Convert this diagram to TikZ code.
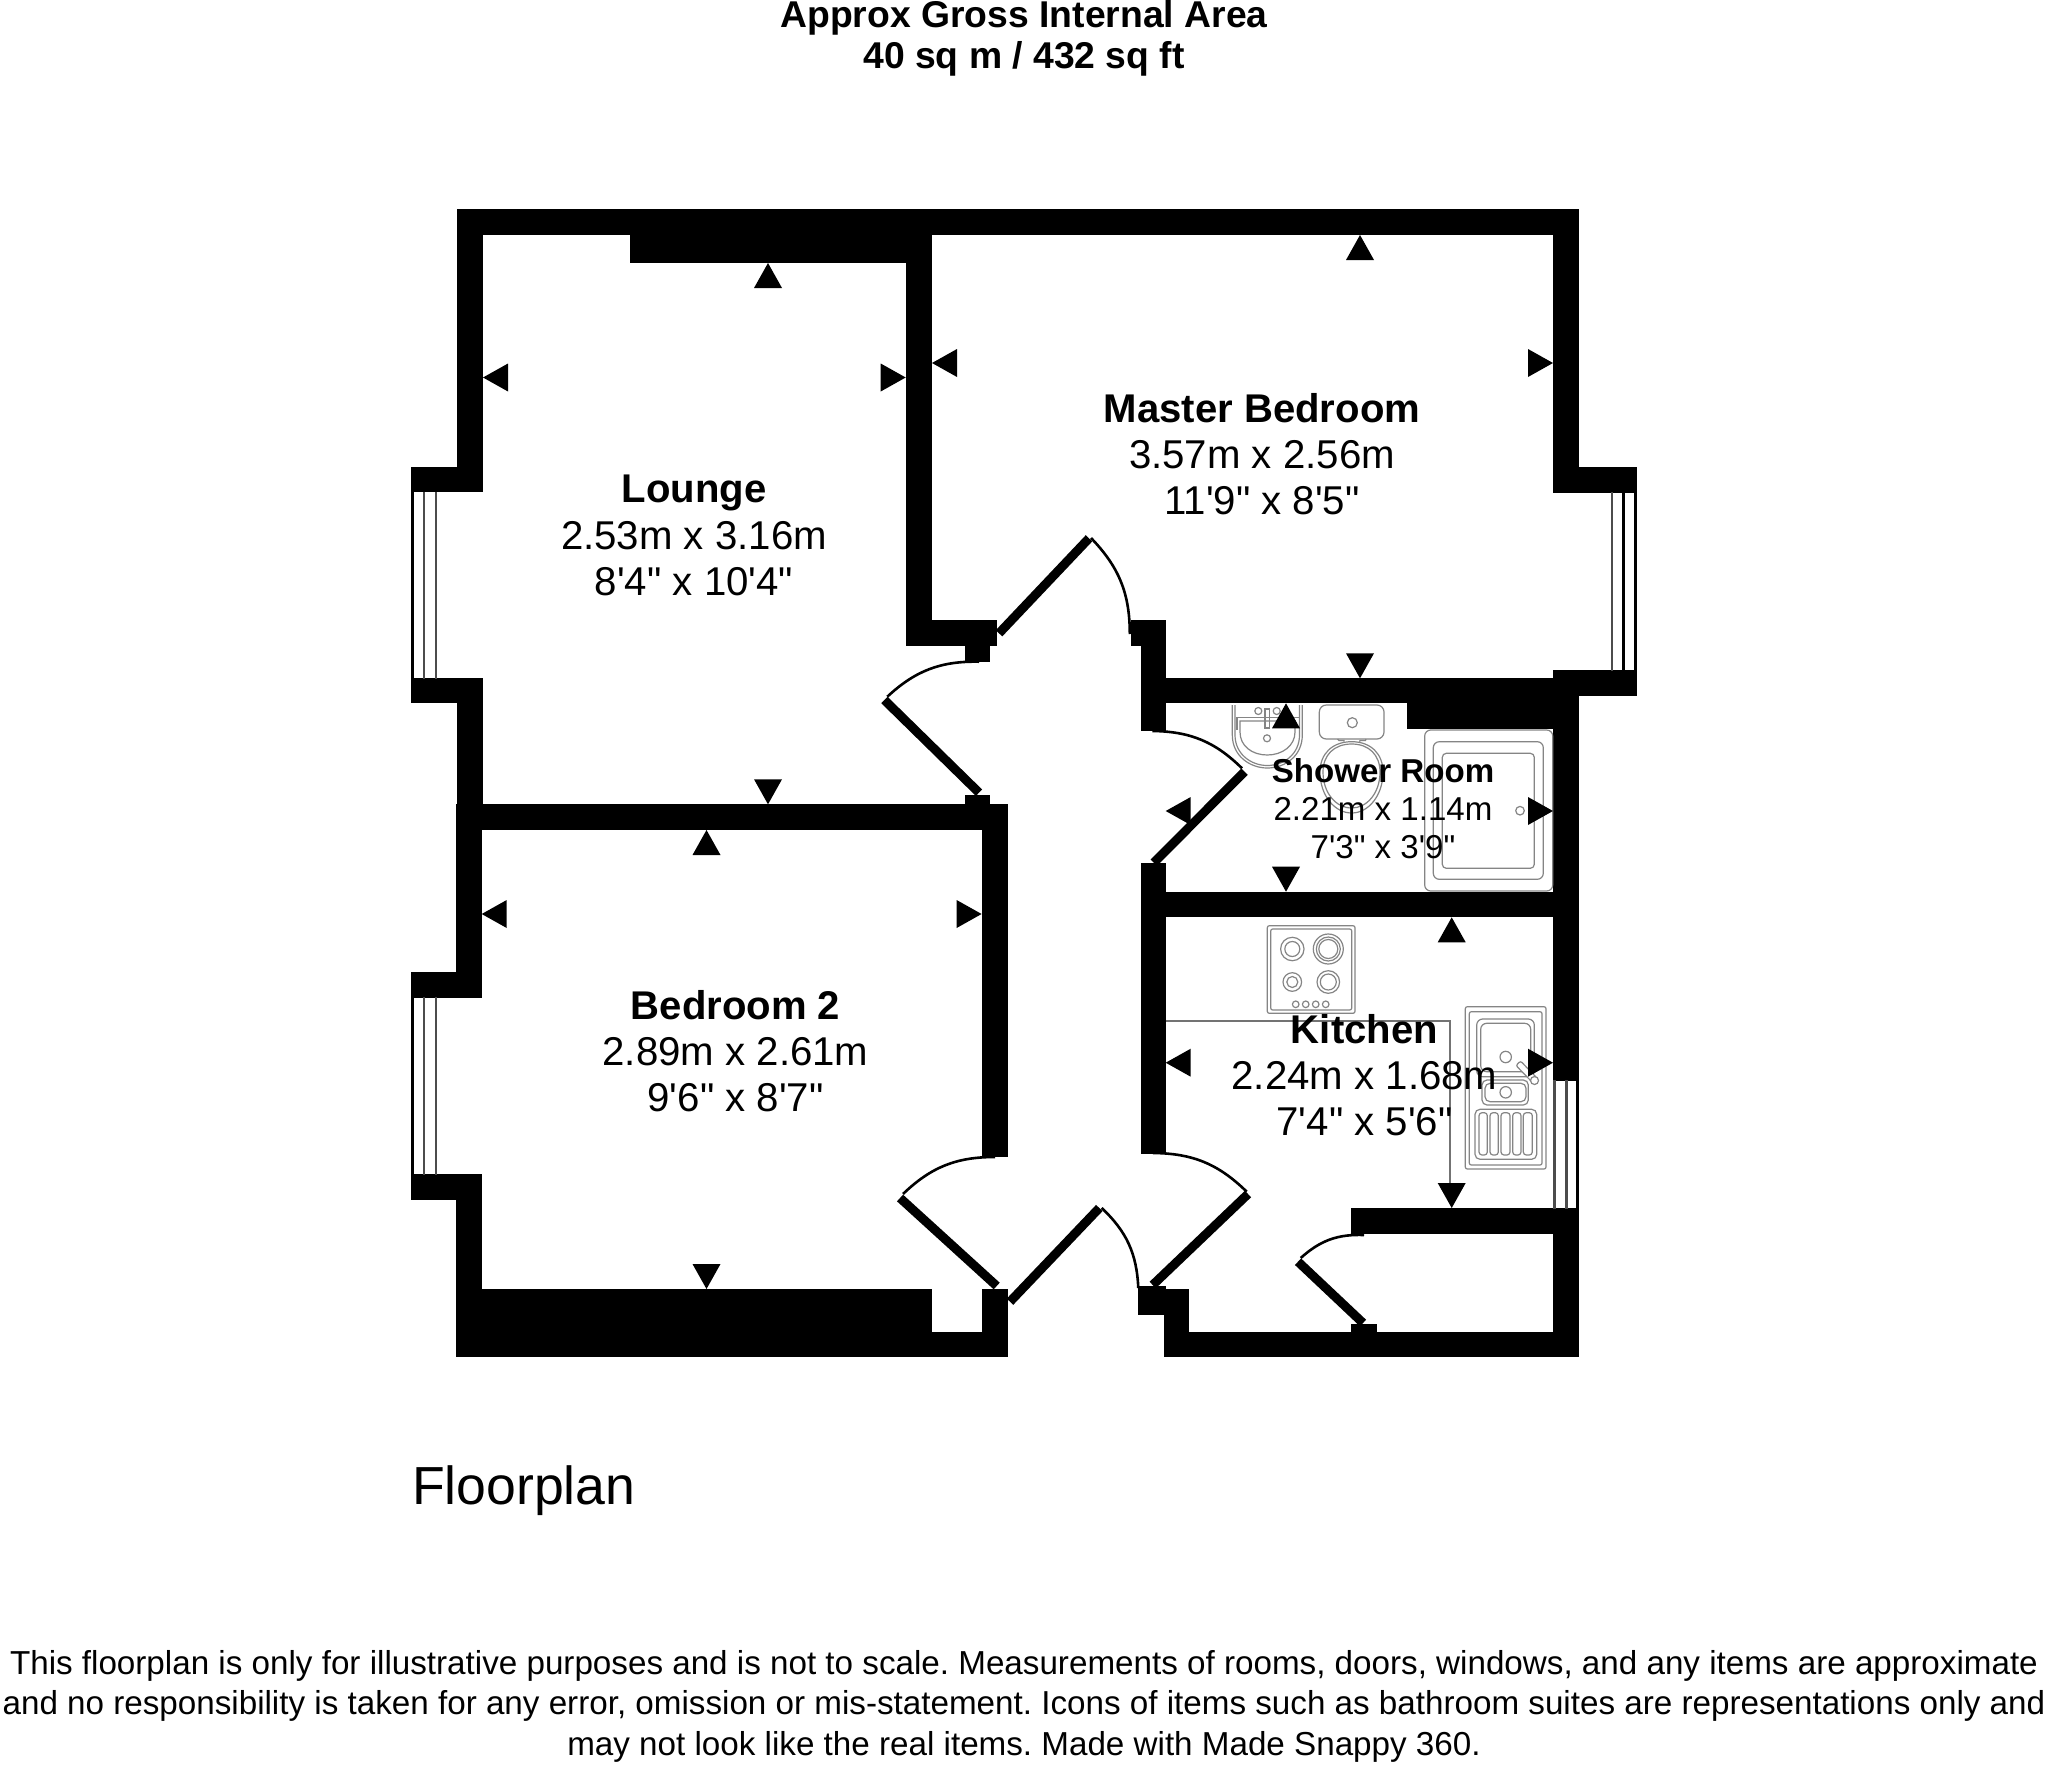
\documentclass[tikz,border=0pt]{standalone}
\usepackage{fontspec}
\newfontfamily\planfont{Liberation Sans}
\frenchspacing
\tikzset{
  txt/.style={inner sep=0pt,outer sep=0pt,anchor=base,align=center},
  ttl/.style={txt,font=\planfont\bfseries\fontsize{37.3}{37.3}\selectfont},
  rname/.style={txt,font=\planfont\bfseries\fontsize{40.1}{40.1}\selectfont},
  rsize/.style={txt,font=\planfont\fontsize{40.2}{40.2}\selectfont},
  sname/.style={txt,font=\planfont\bfseries\fontsize{33.1}{33.1}\selectfont},
  ssize/.style={txt,font=\planfont\fontsize{33.1}{33.1}\selectfont},
  smallnote/.style={txt,font=\planfont\fontsize{33.2}{33.2}\selectfont},
  wall/.style={fill=black},
  mtri/.style={fill=black},
  leaf/.style={draw=black,line width=9pt},
  swing/.style={draw=black,line width=2.6pt},
  glass/.style={draw=black!70,line width=2.6pt},
  wframe/.style={draw=black,line width=2.6pt},
  fix/.style={draw=black!48,line width=1.2pt},
  worktop/.style={draw=black!55,line width=1.5pt}
}
\newcommand{\mkup}[2]{\fill[mtri] (#1,#2) -- ++(14,25) -- ++(-28,0) -- cycle;}
\newcommand{\mkdn}[2]{\fill[mtri] (#1,#2) -- ++(14,-25) -- ++(-28,0) -- cycle;}
\newcommand{\mklf}[2]{\fill[mtri] (#1,#2) -- ++(25,14) -- ++(0,-28) -- cycle;}
\newcommand{\mkrt}[2]{\fill[mtri] (#1,#2) -- ++(-25,14) -- ++(0,-28) -- cycle;}
\begin{document}
\begin{tikzpicture}[x=1pt,y=-1pt]
\useasboundingbox (0,0) rectangle (2048,1766);
\fill[white] (0,0) rectangle (2048,1766);
% walls
\fill[wall] (456.7,209.3) rectangle (1579,235);
\fill[wall] (456.7,209.3) rectangle (483,492.3);
\fill[wall] (411,467.3) rectangle (482.7,492.3);
\fill[wall] (411,678.3) rectangle (482.7,703.3);
\fill[wall] (456.7,678.3) rectangle (482.7,830);
\fill[wall] (630.3,209.3) rectangle (932,263);
\fill[wall] (905.7,209.3) rectangle (932,646);
\fill[wall] (905.7,620) rectangle (997.3,646);
\fill[wall] (964.8,620) rectangle (990,661.7);
\fill[wall] (964.8,795) rectangle (990,830);
\fill[wall] (456,804.3) rectangle (1007.8,830);
\fill[wall] (981.6,804.3) rectangle (1007.8,1156.7);
\fill[wall] (456,804.3) rectangle (481.7,997.7);
\fill[wall] (411,972.3) rectangle (481.7,997.7);
\fill[wall] (411,1174.3) rectangle (481.7,1200);
\fill[wall] (456,1174.3) rectangle (481.7,1357.3);
\fill[wall] (456,1289) rectangle (932,1357.3);
\fill[wall] (456,1332) rectangle (1007.7,1357.3);
\fill[wall] (981.7,1289) rectangle (1007.7,1357.3);
\fill[wall] (1164,1332) rectangle (1579,1357.3);
\fill[wall] (1164,1289.3) rectangle (1189,1357.3);
\fill[wall] (1138,1286) rectangle (1165.7,1315);
\fill[wall] (1350.7,1324) rectangle (1376.7,1333);
\fill[wall] (1350.7,1208) rectangle (1579,1234);
\fill[wall] (1553,1208) rectangle (1579,1357.3);
\fill[wall] (1553,209.3) rectangle (1579,492.7);
\fill[wall] (1553,670) rectangle (1579,1081);
\fill[wall] (1553.3,467.3) rectangle (1637,492.7);
\fill[wall] (1553.3,670) rectangle (1637,696);
\fill[wall] (1140.8,678.3) rectangle (1579,703.3);
\fill[wall] (1407,703.3) rectangle (1553,729.3);
\fill[wall] (1130.8,620) rectangle (1165.7,646);
\fill[wall] (1140.8,620) rectangle (1165.7,731.3);
\fill[wall] (1140.8,863.3) rectangle (1165.7,1154);
\fill[wall] (1140.8,891.7) rectangle (1579,917.3);
% windows
\draw[wframe] (412.3,492) -- (412.3,679);
\draw[glass] (424,492) -- (424,679);
\draw[glass] (436,492) -- (436,679);
\draw[wframe] (412.3,997) -- (412.3,1175);
\draw[glass] (424,997) -- (424,1175);
\draw[glass] (436,997) -- (436,1175);
\draw[glass] (1612,492) -- (1612,671);
\draw[wframe] (1623.7,492) -- (1623.7,671);
\draw[wframe] (1635.7,492) -- (1635.7,671);
\draw[glass] (1554.7,1080) -- (1554.7,1209);
\draw[glass] (1566.3,1080) -- (1566.3,1209);
\draw[wframe] (1577.7,1080) -- (1577.7,1209);
% doors
\draw[leaf] (999,633.3) -- (1089,538.3);
\draw[swing] (1091,538) to[bend left=22] (1129.8,634);
\draw[leaf] (979,792.7) -- (884.4,700);
\draw[swing] (979,661.7) to[bend right=22] (887.3,696.7);
\draw[leaf] (996.7,1286) -- (900,1198);
\draw[swing] (995,1157) to[bend right=22] (903,1194);
\draw[leaf] (1010,1301.7) -- (1099.3,1208);
\draw[swing] (1101.7,1208) to[bend left=22] (1138.3,1288);
\draw[leaf] (1152.7,1285) -- (1248,1194);
\draw[swing] (1153,1153) to[bend left=22] (1246.7,1191.7);
\draw[leaf] (1244.6,771.7) -- (1153.7,862.7);
\draw[swing] (1152.3,731) to[bend left=22] (1242,768.3);
\draw[leaf] (1363,1323) -- (1298,1261.7);
\draw[swing] (1364,1235) to[bend right=22] (1300.7,1258);
% worktop
\draw[worktop] (1165.7,1021) -- (1450,1021) -- (1450,1185);
% hob
\draw[fix,rounded corners=2pt] (1267.3,925.7) rectangle (1355,1013.3);
\draw[fix,rounded corners=2pt] (1270.7,929) rectangle (1351.7,1010);
\draw[fix] (1292.3,949) circle (11.7) circle (7.5);
\draw[fix] (1328.3,949) circle (15) circle (12) circle (9.5);
\draw[fix] (1292.3,982) circle (9.3) circle (5.5);
\draw[fix] (1328.3,982) circle (11.3) circle (8);
\foreach \kx in {1295.7,1305.7,1315.7,1325.7} \draw[fix] (\kx,1004.3) circle (3.3);
% kitchen sink
\draw[fix,rounded corners=2pt] (1465.3,1006.7) rectangle (1546,1169);
\draw[fix,rounded corners=2pt] (1469.3,1011.7) rectangle (1542,1165);
\draw[fix,rounded corners=6pt] (1476.7,1019) rectangle (1534.3,1076.7);
\draw[fix,rounded corners=6pt] (1480.7,1023.3) rectangle (1530.7,1071.7);
\draw[fix,rounded corners=5pt] (1482,1080) rectangle (1528.3,1105);
\draw[fix,rounded corners=5pt] (1485,1083.3) rectangle (1526,1101.7);
\draw[fill=white,draw=black!48,line width=1.2pt] (1505.7,1057) circle (5.7);
\draw[fill=white,draw=black!48,line width=1.2pt] (1505.7,1092.3) circle (5.7);
\draw[fill=white,draw=black!48,line width=1.2pt,rounded corners=2pt] (1516,1065.5) -- (1520.5,1061) -- (1537,1078) -- (1532.5,1082.5) -- cycle;
\draw[fill=white,draw=black!48,line width=1.2pt] (1534.5,1080.5) circle (4);
\draw[fix,rounded corners=5pt] (1475,1109.3) rectangle (1536.7,1159.3);
\draw[fix,rounded corners=3pt] (1479,1112.7) rectangle (1487.3,1155);
\draw[fix,rounded corners=3pt] (1490,1112.7) rectangle (1498.3,1155);
\draw[fix,rounded corners=3pt] (1501,1112.7) rectangle (1510,1155);
\draw[fix,rounded corners=3pt] (1512.7,1112.7) rectangle (1521,1155);
\draw[fix,rounded corners=3pt] (1523.3,1112.7) rectangle (1532.3,1155);
% washbasin
\draw[fix] (1232.3,705) -- (1232.3,735) .. controls (1232.3,756) and (1250,768) .. (1267.3,768) .. controls (1285,768) and (1302.3,756) .. (1302.3,735) -- (1302.3,705);
\draw[fix] (1235,705) -- (1235,735) .. controls (1235,754) and (1251,765.5) .. (1267.3,765.5) .. controls (1284,765.5) and (1299.5,754) .. (1299.5,735) -- (1299.5,705);
\draw[fix] (1237,730) -- (1237,717.7) -- (1299,717.7);
\draw[fix] (1240,721) -- (1295,721) -- (1295,732) .. controls (1295,746) and (1282,755) .. (1267.3,755) .. controls (1252,755) and (1240,746) .. (1240,732) -- cycle;
\draw[fix] (1258.3,711) circle (3.5);
\draw[fix] (1276.7,711) circle (3.5);
\draw[fix] (1265,709) rectangle (1269.5,728);
\draw[fix] (1267,738.3) circle (3.5);
% toilet
\draw[fix,rounded corners=7pt] (1319.3,705) rectangle (1384,739);
\draw[fix] (1352.3,722.7) circle (5);
\draw[fix] (1337.5,739) -- (1339,740.5) -- (1344,740.5) -- (1344,741.7);
\draw[fix] (1359.5,741.7) -- (1360,740.5) -- (1365.5,740.5) -- (1366,739);
\draw[fix] (1351.7,741.7) .. controls (1371,741.7) and (1383,754) .. (1383,772) .. controls (1383,796) and (1368,813) .. (1351.7,813) .. controls (1335,813) and (1320,796) .. (1320,772) .. controls (1320,754) and (1332,741.7) .. (1351.7,741.7) -- cycle;
\draw[fix] (1351.7,744) .. controls (1369,744) and (1380,755) .. (1380,772) .. controls (1380,793) and (1367,808) .. (1351.7,808) .. controls (1336,808) and (1323,793) .. (1323,772) .. controls (1323,755) and (1334,744) .. (1351.7,744) -- cycle;
% shower tray
\draw[fix,rounded corners=6pt] (1424.7,730) rectangle (1552.7,891);
\draw[fix,rounded corners=6pt] (1433.3,741.7) rectangle (1543.3,879.3);
\draw[fix,rounded corners=4pt] (1442.3,753.3) rectangle (1534.3,868.3);
\draw[fix] (1520,810.7) circle (4.3);
% measuring marks
\mkup{768}{263}
\mkdn{768}{804.3}
\mklf{483}{377.5}
\mkrt{905.7}{377.5}
\mkup{1360}{235}
\mkdn{1360}{678.3}
\mklf{932}{363}
\mkrt{1553}{363}
\mkup{1286}{703.3}
\mkdn{1286}{891.7}
\mklf{1165.7}{811}
\mkrt{1553}{811}
\mkup{1451.7}{917.3}
\mkdn{1451.7}{1208}
\mklf{1165.7}{1062.7}
\mkrt{1553}{1062.7}
\mkup{706.5}{830}
\mkdn{706.5}{1289}
\mklf{481.7}{914}
\mkrt{981.6}{914}
% texts
\node[ttl] (t1) at (1024,28) {Approx Gross Internal Area};
\node[ttl] (t2) at (1024,69) {40 sq m / 432 sq ft};
\node[rname] (l1) at (694,502) {Lounge};
\node[rsize] (l2) at (694,549) {2.53m x 3.16m};
\node[rsize] (l3) at (694,595) {8'4" x 10'4"};
\node[rname] (m1) at (1262,422) {Master Bedroom};
\node[rsize] (m2) at (1262,468) {3.57m x 2.56m};
\node[rsize] (m3) at (1262,514) {11'9" x 8'5"};
\node[rname] (b1) at (735.5,1019) {Bedroom 2};
\node[rsize] (b2) at (735.5,1065) {2.89m x 2.61m};
\node[rsize] (b3) at (735.5,1111) {9'6" x 8'7"};
\node[sname] (s1) at (1383,782) {Shower Room};
\node[ssize] (s2) at (1383,820) {2.21m x 1.14m};
\node[ssize] (s3) at (1383,858.5) {7'3" x 3'9"};
\node[rname] (k1) at (1364.5,1043.3) {Kitchen};
\node[rsize] (k2) at (1364.5,1089) {2.24m x 1.68m};
\node[rsize] (k3) at (1364.5,1135) {7'4" x 5'6"};
\node[txt,anchor=base west,font=\planfont\fontsize{53.6}{53.6}\selectfont] (fp) at (412,1504) {Floorplan};
\node[smallnote] (d1) at (1024,1674) {This floorplan is only for illustrative purposes and is not to scale. Measurements of rooms, doors, windows, and any items are approximate};
\node[smallnote] (d2) at (1024,1714.5) {and no responsibility is taken for any error, omission or mis-statement. Icons of items such as bathroom suites are representations only and};
\node[smallnote] (d3) at (1024,1755) {may not look like the real items. Made with Made Snappy 360.};
\end{tikzpicture}
\end{document}
